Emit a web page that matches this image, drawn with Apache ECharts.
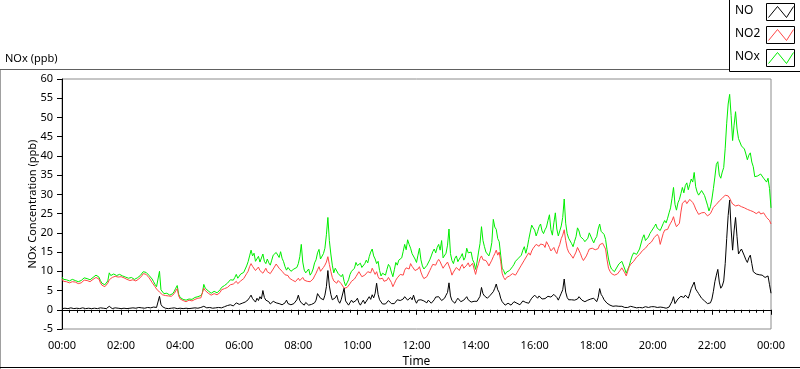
<!DOCTYPE html>
<html>
<head>
<meta charset="utf-8">
<script src="https://cdn.jsdelivr.net/npm/echarts@6/dist/echarts.min.js"></script>
<style>
html,body{margin:0;padding:0;background:#fff;}
#chart{width:800px;height:369px;}
</style>
</head>
<body>
<div id="chart"></div>
<script>
// Sampling: one value every 3 minutes from 00:00 to 24:00 (481 values per series)
const stepMinutes = 3;
const xTickLabels = ['00:00','02:00','04:00','06:00','08:00','10:00','12:00','14:00','16:00','18:00','20:00','22:00','00:00'];
const seriesNames = ['NO', 'NO2', 'NOx'];

const no2Values = [
 8.0,7.4,7.0,7.3,7.3,7.0,6.9,7.3,7.5,7.2,7.1,6.8,6.7,7.0,7.3,7.7,7.9,7.6,7.5,7.3,
 7.4,7.9,8.2,8.4,8.5,8.0,7.0,6.4,6.2,6.0,6.3,6.9,7.8,8.3,8.4,8.8,8.7,8.4,8.5,8.7,
 8.6,8.4,8.3,8.0,7.9,7.7,7.6,7.9,7.8,7.4,7.5,7.8,8.0,8.4,8.8,9.4,9.8,9.2,8.8,8.3,
 7.8,7.1,6.6,6.0,5.4,5.0,4.6,4.2,3.9,3.6,3.7,3.8,3.6,3.4,3.5,3.7,4.2,4.9,5.5,3.6,
 2.8,2.6,2.4,2.2,2.1,2.3,2.5,2.2,2.3,2.5,2.7,2.9,3.0,3.2,3.1,3.6,5.6,5.0,4.8,4.3,
 4.0,3.8,3.9,4.2,4.1,3.9,4.0,4.5,5.2,5.0,5.5,5.3,5.8,6.1,6.5,6.3,6.7,7.0,7.4,6.8,
 7.0,7.5,7.7,8.1,8.6,9.4,10.0,11.2,12.0,11.3,11.0,10.2,10.5,11.1,10.2,9.8,9.5,10.1,10.8,9.9,
 10.3,9.4,9.9,10.6,11.0,11.9,11.6,10.8,10.6,10.0,9.5,9.1,8.6,8.9,8.2,8.0,7.7,7.9,7.3,7.8,
 8.2,7.6,7.9,8.4,7.7,7.2,7.4,7.8,7.3,7.6,8.0,8.8,9.5,10.4,11.2,10.0,10.3,11.0,11.6,12.4,
 13.8,11.8,10.0,8.4,7.5,7.0,6.9,7.6,7.3,6.8,6.4,5.6,5.2,5.8,6.0,6.8,7.4,7.0,8.0,8.6,
 9.0,9.9,9.5,8.6,8.2,9.0,9.5,9.9,10.3,9.6,10.8,10.0,9.2,9.9,8.6,8.0,7.5,8.2,7.4,7.0,
 7.7,8.4,8.2,7.1,6.0,6.8,7.7,8.3,8.5,9.2,9.6,9.0,10.3,10.9,11.4,10.6,12.0,11.3,11.0,10.2,
 9.9,10.6,11.2,9.8,8.8,8.1,7.8,8.6,9.0,10.2,11.0,11.8,12.2,11.6,12.5,13.1,12.5,11.6,10.8,11.4,
 11.6,12.4,12.1,10.4,9.0,9.8,10.3,11.0,10.8,10.2,11.2,11.8,10.8,10.3,11.6,12.2,11.2,11.7,12.1,10.6,
 9.2,10.8,12.0,13.3,14.0,13.0,13.5,12.8,12.2,11.4,11.6,12.9,13.8,14.6,15.5,14.2,15.0,12.6,9.5,8.4,
 7.8,8.4,8.0,8.8,8.6,9.4,9.2,9.0,9.6,10.3,10.8,11.6,12.0,12.9,13.2,14.2,14.8,14.2,15.3,16.0,
 16.3,17.0,17.2,16.5,17.1,17.6,16.9,16.2,17.7,17.0,16.2,15.3,15.6,16.2,15.2,14.6,16.0,17.0,18.5,19.4,
 20.8,18.0,16.0,15.0,14.7,14.0,13.4,14.2,15.0,16.2,16.0,14.6,13.5,12.8,13.2,14.0,14.9,15.8,15.5,16.0,
 16.3,15.6,15.1,15.9,16.9,16.4,17.3,16.8,15.8,13.0,10.8,10.0,9.4,9.1,9.0,9.4,9.3,9.8,10.3,10.9,
 10.6,9.6,8.8,10.0,11.2,11.8,12.2,12.6,12.9,13.7,14.2,14.4,14.8,15.4,15.7,16.0,16.4,17.0,17.4,17.6,
 18.1,18.8,19.2,19.6,19.0,17.0,17.4,19.8,20.7,20.2,20.9,21.8,22.5,23.2,24.2,22.6,21.6,22.0,22.5,25.4,
 27.7,28.0,28.4,27.6,28.1,28.7,28.5,27.9,27.2,26.2,25.5,24.8,24.6,25.2,25.5,25.3,25.0,24.4,24.2,25.0,
 25.8,26.6,27.0,27.4,27.8,28.3,28.5,29.0,29.4,29.8,30.1,29.6,29.0,28.2,27.5,27.1,27.0,27.4,27.2,26.9,
 26.8,26.9,26.5,26.0,26.1,25.9,25.8,25.4,25.5,25.2,25.0,25.3,25.5,24.9,25.0,25.2,24.6,24.0,23.5,23.2,
 22.3
];

const noxValues = [
 8.5,7.9,7.5,7.8,7.7,7.5,7.5,7.9,7.9,7.6,7.6,7.3,7.1,7.6,7.9,8.3,8.3,8.1,8.0,7.8,
 7.8,8.4,8.7,9.0,8.9,8.5,7.6,6.9,6.6,6.5,6.7,7.5,9.6,8.9,8.8,9.3,9.2,8.9,9.0,9.2,
 8.9,8.8,8.8,8.5,8.3,8.2,8.0,8.4,8.3,7.9,8.0,8.3,8.6,8.9,9.3,9.9,10.1,9.7,9.4,8.9,
 8.6,8.0,7.3,6.6,6.0,5.5,10.0,5.2,4.7,4.2,4.1,4.3,3.9,3.8,3.9,4.2,4.8,5.6,6.3,4.0,
 3.2,3.0,2.7,2.6,2.5,2.7,2.8,2.6,2.7,3.0,3.2,3.4,3.4,3.6,3.7,4.3,6.6,5.6,5.3,4.9,
 4.6,4.3,4.3,4.8,4.6,4.4,4.6,5.2,5.8,5.6,6.3,6.0,6.9,7.2,7.8,7.4,7.7,8.4,9.2,8.2,
 8.4,9.3,9.0,9.7,10.2,11.4,12.5,14.0,15.5,14.0,14.7,12.6,12.8,13.9,12.4,12.0,14.5,12.6,12.0,13.2,
 12.2,11.6,12.9,14.2,13.8,14.9,14.7,13.6,15.1,13.4,12.5,11.2,10.3,11.0,10.8,10.0,9.9,10.6,10.3,11.0,
 12.0,13.8,17.0,12.4,10.3,9.6,9.9,10.6,9.0,9.6,10.6,12.2,13.0,14.8,15.7,13.2,12.9,14.6,16.0,19.5,
 24.0,18.0,14.5,11.6,9.6,10.8,10.3,9.4,9.2,8.6,9.2,7.4,6.2,7.0,7.8,9.2,10.0,10.4,10.8,12.3,
 11.5,11.0,12.1,11.0,10.5,12.0,12.9,12.2,13.8,15.0,15.8,14.0,13.2,12.0,12.6,10.2,8.8,9.5,9.6,9.0,
 10.5,11.8,11.2,9.8,8.6,10.4,12.3,11.6,12.9,13.4,13.5,15.2,17.0,15.6,18.2,17.0,16.0,14.6,14.5,13.2,
 12.3,14.2,16.0,13.0,11.4,10.6,10.4,11.5,11.8,13.0,14.0,15.1,15.8,14.8,16.2,17.0,15.5,18.0,13.5,13.0,
 14.7,16.8,21.0,14.6,12.8,12.0,13.4,14.0,12.5,13.2,13.8,14.6,12.9,13.6,16.0,14.8,14.5,15.0,13.0,12.2,
 10.5,12.4,15.0,17.2,21.6,18.0,16.4,15.0,14.9,14.0,15.3,17.5,23.5,21.5,20.9,18.5,17.7,14.2,10.8,10.2,
 9.2,9.8,9.7,10.2,10.6,11.2,11.8,12.6,12.3,13.4,13.0,14.2,15.5,16.4,14.7,16.2,18.3,20.2,22.0,21.3,
 20.7,19.2,20.3,21.6,22.3,20.5,19.8,20.8,21.5,23.2,24.7,20.8,19.4,22.6,25.2,21.0,19.2,20.5,21.8,24.0,
 28.8,22.5,19.8,18.6,18.1,17.2,16.4,17.8,19.0,21.3,20.5,19.0,19.4,18.3,17.7,18.2,18.6,20.0,19.8,18.2,
 17.4,18.4,19.0,21.0,22.3,20.4,20.7,19.6,18.3,15.6,13.2,11.6,10.6,10.2,9.9,10.6,11.0,11.9,12.4,12.6,
 12.1,10.6,9.5,10.5,11.4,12.8,14.0,14.8,15.3,14.4,14.7,15.8,16.2,18.6,19.5,18.0,17.5,18.9,19.8,20.4,
 20.9,21.6,22.3,21.2,21.5,20.6,21.0,22.4,23.2,22.6,23.8,25.2,26.5,29.0,31.8,27.4,25.9,27.8,28.7,30.2,
 31.8,30.4,32.3,33.0,31.2,32.6,34.0,33.2,35.7,32.0,30.6,29.8,29.5,31.0,30.6,29.7,29.4,27.2,25.7,26.8,
 28.8,31.5,34.5,37.8,38.5,35.0,34.2,35.8,37.0,42.0,48.5,53.5,56.0,50.5,44.0,48.0,51.5,47.0,44.5,45.0,
 42.6,42.9,41.8,40.5,39.0,40.2,40.8,38.4,37.2,34.6,34.5,34.8,34.3,35.3,35.0,34.2,33.7,33.2,34.2,31.5,
 26.5
];

const noValues = [
 0.3,0.4,0.4,0.3,0.3,0.4,0.5,0.3,0.3,0.4,0.4,0.3,0.3,0.4,0.5,0.4,0.3,0.4,0.4,0.3,
 0.3,0.4,0.4,0.3,0.3,0.4,0.5,0.4,0.4,0.3,0.3,0.4,0.9,0.4,0.3,0.4,0.5,0.4,0.4,0.3,
 0.3,0.4,0.4,0.3,0.3,0.4,0.4,0.5,0.5,0.4,0.4,0.5,0.6,0.4,0.5,0.6,0.4,0.5,0.6,0.5,
 0.5,0.6,0.7,0.5,0.6,1.0,3.5,1.4,0.8,0.5,0.4,0.3,0.3,0.4,0.4,0.3,0.5,0.4,0.3,0.4,
 0.4,0.3,0.3,0.4,0.4,0.3,0.3,0.4,0.4,0.5,0.5,0.4,0.4,0.5,0.6,0.5,0.9,0.6,0.5,0.6,
 0.6,0.5,0.4,0.5,0.5,0.6,0.6,0.5,0.5,0.7,0.8,0.7,1.1,0.9,1.3,1.1,1.0,1.4,1.8,1.3,
 1.4,1.9,1.7,1.5,2.0,2.4,2.6,3.2,3.8,2.9,2.5,2.0,3.0,2.4,3.4,2.8,5.0,3.2,2.5,2.9,
 2.1,1.5,1.7,2.2,2.5,1.8,2.1,1.6,1.5,1.3,1.2,1.8,2.5,1.6,1.9,1.3,1.2,1.6,2.1,2.6,
 3.8,2.4,1.8,1.3,1.2,1.9,1.6,1.2,1.7,1.4,1.2,1.8,2.5,4.2,4.5,3.0,3.2,2.6,3.8,6.0,
 10.2,6.2,4.0,2.6,2.5,3.1,3.8,2.4,1.7,2.6,2.8,5.6,2.3,1.8,1.2,1.6,2.5,1.9,1.7,2.4,
 3.0,1.8,1.2,1.9,2.5,1.6,2.1,2.8,3.4,2.7,3.9,3.1,4.3,6.9,4.0,2.6,2.2,1.5,1.2,1.5,
 1.7,2.4,2.1,1.6,1.2,1.6,2.1,2.6,3.0,2.4,2.1,2.8,3.4,2.9,2.5,2.9,3.2,2.6,3.8,2.5,
 1.7,2.5,2.1,2.6,3.0,2.3,2.1,1.8,2.5,2.0,1.7,2.2,2.6,3.3,3.8,3.4,3.0,2.4,2.5,3.0,
 3.8,4.5,7.0,3.6,2.4,2.0,1.7,2.4,3.0,2.5,2.1,2.3,2.5,2.9,3.4,2.6,2.2,2.0,1.8,2.2,
 2.5,2.2,2.1,3.5,5.8,4.2,3.6,3.2,3.0,3.4,3.8,4.2,4.7,5.6,6.7,5.2,4.5,3.0,2.1,1.6,
 1.2,1.5,1.7,1.4,1.2,1.6,2.1,1.8,1.7,1.4,1.3,1.8,2.3,2.0,1.9,1.5,1.7,2.4,3.0,3.3,
 3.8,3.3,3.0,3.6,3.4,2.8,2.5,2.9,3.2,3.5,3.0,3.3,3.5,4.0,4.3,3.2,2.5,3.4,4.3,5.2,
 8.0,4.6,3.2,2.6,2.1,2.6,3.0,2.5,2.1,2.8,3.4,2.9,2.5,2.2,2.1,2.4,2.5,2.9,2.8,3.2,
 3.0,2.6,2.1,3.2,5.5,4.0,3.4,2.6,2.1,1.7,1.4,1.2,1.0,0.9,0.9,1.0,0.8,0.9,1.1,0.9,
 0.8,0.6,0.5,0.6,0.7,0.9,1.0,0.7,0.6,0.5,0.5,0.6,0.4,0.5,0.6,0.8,0.8,0.6,0.6,0.8,
 1.0,0.8,0.7,0.6,0.6,0.7,0.8,0.6,0.5,0.4,0.4,0.7,1.0,2.2,3.4,1.6,2.1,2.8,2.5,3.5,
 4.0,3.2,3.8,3.3,3.0,4.2,5.5,6.0,7.2,5.4,4.8,4.2,3.8,3.0,2.5,2.3,2.1,1.6,1.3,1.8,
 2.8,4.8,7.3,9.0,10.5,7.2,5.6,6.2,7.5,12.0,18.5,24.5,28.5,21.0,15.5,20.5,24.0,19.0,14.5,15.2,
 15.8,15.3,14.0,13.0,12.3,13.5,14.2,12.0,9.9,9.5,9.3,9.0,9.1,9.6,9.0,8.6,8.4,8.1,8.8,6.5,
 4.3
];

const FONT = "'Noto Sans', 'Liberation Sans', sans-serif";
const colors = { NO: '#000000', NO2: '#ff4646', NOx: '#00ee00' };

function toPairs(values) {
  return values.map((v, i) => [i * stepMinutes, v]);
}

const chart = echarts.init(document.getElementById('chart'), null, { renderer: 'canvas' });

// legend (LabVIEW style) built as graphics
const legendItems = [];
const legendRowY = [3, 26, 49];
seriesNames.forEach((name, k) => {
  const y0 = legendRowY[k];
  legendItems.push({
    type: 'text', left: 735, top: y0 + 2,
    style: { text: name, fontSize: 12, fontFamily: FONT, fill: '#000' }
  });
  legendItems.push({
    type: 'rect', shape: { x: 766.5, y: y0 + 0.5, width: 28, height: 17 },
    style: { fill: '#fff', stroke: '#000', lineWidth: 1 }
  });
  legendItems.push({
    type: 'polyline',
    shape: { points: [[768.5, y0 + 14.5], [777.5, y0 + 3.5], [786.5, y0 + 14.5], [793.5, y0 + 3.5]] },
    style: { stroke: colors[name], lineWidth: 1, fill: null }
  });
});

const option = {
  animation: false,
  backgroundColor: '#fff',
  textStyle: { fontFamily: FONT },
  grid: {
    left: 62, right: 29, top: 79, bottom: 40,
    containLabel: false, outerBoundsMode: 'none',
    show: true, borderColor: '#8c8c8c', borderWidth: 1, backgroundColor: 'transparent'
  },
  xAxis: [
    {
      type: 'value', min: 0, max: 1440, interval: 120, position: 'bottom', offset: 2,
      axisLine: { show: false },
      axisTick: { show: true, length: 5, lineStyle: { color: '#000' } },
      minorTick: { show: true, splitNumber: 8, length: 3, lineStyle: { color: '#000' } },
      splitLine: { show: false }, minorSplitLine: { show: false },
      axisLabel: {
        margin: 9, fontSize: 11, color: '#000', fontFamily: FONT,
        formatter: function (v) { return xTickLabels[Math.round(v / 120)]; }
      },
      name: 'Time', nameLocation: 'middle', nameGap: 25, nameMoveOverlap: false,
      nameTextStyle: { fontSize: 12, color: '#000', fontFamily: FONT }
    },
    {
      type: 'value', min: 0, max: 1440, position: 'top',
      axisLine: { show: true, lineStyle: { color: '#000' } },
      axisTick: { show: false }, axisLabel: { show: false }, splitLine: { show: false }
    }
  ],
  yAxis: [
    {
      type: 'value', min: -5, max: 60, interval: 5, position: 'left', offset: 2,
      axisLine: { show: false },
      axisTick: { show: true, length: 5, lineStyle: { color: '#000' } },
      splitLine: { show: false },
      axisLabel: { margin: 7, fontSize: 11, color: '#000', fontFamily: FONT },
      name: 'NOx Concentration (ppb)', nameLocation: 'middle', nameGap: 22, nameRotate: 90,
      nameMoveOverlap: false,
      nameTextStyle: { fontSize: 11, color: '#000', fontFamily: FONT }
    },
    {
      type: 'value', min: -5, max: 60, position: 'left', offset: 0,
      axisLine: { show: true, lineStyle: { color: '#000' } },
      axisTick: { show: false }, axisLabel: { show: false }, splitLine: { show: false }
    }
  ],
  series: [
    { name: 'NOx', type: 'line', data: toPairs(noxValues), showSymbol: false, symbol: 'none',
      lineStyle: { color: colors.NOx, width: 1 }, itemStyle: { color: colors.NOx }, clip: true, z: 2 },
    { name: 'NO2', type: 'line', data: toPairs(no2Values), showSymbol: false, symbol: 'none',
      lineStyle: { color: colors.NO2, width: 1 }, itemStyle: { color: colors.NO2 }, clip: true, z: 3 },
    { name: 'NO', type: 'line', data: toPairs(noValues), showSymbol: false, symbol: 'none',
      lineStyle: { color: colors.NO, width: 1 }, itemStyle: { color: colors.NO }, clip: true, z: 4 }
  ],
  graphic: [
    { type: 'line', shape: { x1: 0.5, y1: 69.5, x2: 0.5, y2: 369 }, style: { stroke: '#a0a0a0', lineWidth: 1 } },
    { type: 'line', shape: { x1: 0, y1: 69.5, x2: 730, y2: 69.5 }, style: { stroke: '#606060', lineWidth: 1 } },
    { type: 'line', shape: { x1: 0, y1: 367.5, x2: 800, y2: 367.5 }, style: { stroke: '#000', lineWidth: 1 } },
    { type: 'text', left: 5, top: 53, style: { text: 'NOx (ppb)', fontSize: 11, fontFamily: FONT, fill: '#000' } },
    { type: 'rect', shape: { x: 729.5, y: -1, width: 71, height: 72.5 },
      style: { fill: '#fff', stroke: '#000', lineWidth: 1 } }
  ].concat(legendItems)
};

chart.setOption(option);
</script>
</body>
</html>
